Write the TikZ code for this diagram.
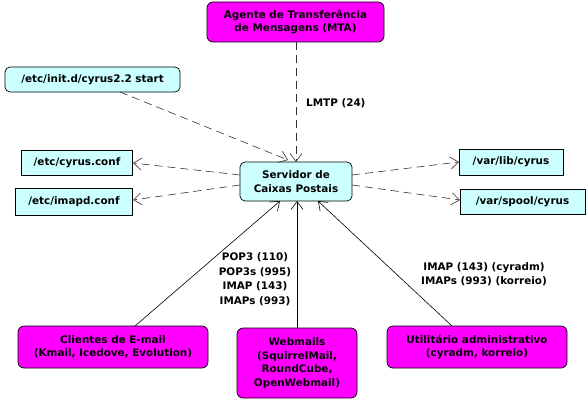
\documentclass[tikz,border=0pt]{standalone}
\usepackage{fontspec}
\setmainfont{DejaVu Sans}
\usetikzlibrary{arrows.meta}
\definecolor{boxcyan}{HTML}{CCFFFF}
\definecolor{boxmag}{HTML}{FF00FF}
\definecolor{dashgray}{HTML}{303030}
\begin{document}
\begin{tikzpicture}[x=1pt,y=-1pt,
  every node/.style={font=\bfseries\fontsize{10.4}{13.5}\selectfont, inner sep=0pt, align=center},
  magbox/.style={draw=black, fill=boxmag, rounded corners=6pt, line width=0.7pt},
  cybox/.style={draw=black, fill=boxcyan, rounded corners=5pt, line width=0.7pt},
  filebox/.style={draw=black, fill=boxcyan, line width=0.7pt},
  dep/.style={draw=dashgray, line width=0.6pt, dash pattern=on 8pt off 5pt, -{Straight Barb[length=8pt,width=12pt]}},
  use/.style={draw=black, line width=0.6pt, -{Straight Barb[length=8pt,width=12pt]}},
  lbl/.style={font=\bfseries\fontsize{10.4}{14.5}\selectfont}
]
\useasboundingbox (0,0) rectangle (588,404);
% nodes
\node[magbox, minimum width=177pt, minimum height=40pt] (mta) at (295.5,22) {Agente de Transferência\\de Mensagens (MTA)};
\node[cybox, minimum width=175pt, minimum height=25pt] (init) at (92.5,79.5) {/etc/init.d/cyrus2.2 start};
\node[filebox, minimum width=111pt, minimum height=25pt] (cconf) at (77,162.5) {/etc/cyrus.conf};
\node[filebox, minimum width=117pt, minimum height=27pt] (iconf) at (74,202) {/etc/imapd.conf};
\node[cybox, minimum width=112pt, minimum height=39pt] (srv) at (296,181.5) {Servidor de\\Caixas Postais};
\node[filebox, minimum width=104pt, minimum height=26pt] (vlib) at (511,162) {/var/lib/cyrus};
\node[filebox, minimum width=125pt, minimum height=25pt] (vspool) at (522.5,202) {/var/spool/cyrus};
\node[magbox, minimum width=190pt, minimum height=42pt] (cli) at (113,347) {Clientes de E-mail\\(Kmail, Icedove, Evolution)};
\node[magbox, minimum width=120pt, minimum height=70pt] (web) at (297,363) {Webmails\\(SquirrelMail,\\RoundCube,\\OpenWebmail)};
\node[magbox, minimum width=180pt, minimum height=42pt] (adm) at (477,347) {Utilitário administrativo\\(cyradm, korreio)};
% coordinates
\coordinate (mtaB) at (296,42);
\coordinate (srvT) at (296,162);
\coordinate (initB) at (120,92);
\coordinate (srvTL) at (288,160);
\coordinate (srvL1) at (240,175);
\coordinate (srvL2) at (240,185);
\coordinate (srvR1) at (352,175);
\coordinate (srvR2) at (352,185);
\coordinate (cconfR) at (133,163);
\coordinate (iconfR) at (133,200);
\coordinate (vlibL) at (459,162);
\coordinate (vspoolL) at (460,200);
\coordinate (cliT) at (135,326);
\coordinate (webT) at (297,328);
\coordinate (admT) at (452,326);
\coordinate (srvB1) at (280,201);
\coordinate (srvB2) at (297,201);
\coordinate (srvB3) at (318,201);
% connectors
\draw[dep] (mtaB) -- (srvT);
\draw[dep] (initB) -- (srvTL);
\draw[dep] (srvL1) -- (cconfR);
\draw[dep] (srvL2) -- (iconfR);
\draw[dep] (srvR1) -- (vlibL);
\draw[dep] (srvR2) -- (vspoolL);
\draw[use] (cliT) -- (srvB1);
\draw[use] (webT) -- (srvB2);
\draw[use] (admT) -- (srvB3);
% labels
\node[lbl, anchor=west] (lmtp) at (306,103) {LMTP (24)};
\node[lbl] (pop) at (255,279) {POP3 (110)\\POP3s (995)\\IMAP (143)\\IMAPs (993)};
\node[lbl] (imap) at (484,274) {IMAP (143) (cyradm)\\IMAPs (993) (korreio)};
\end{tikzpicture}
\end{document}
